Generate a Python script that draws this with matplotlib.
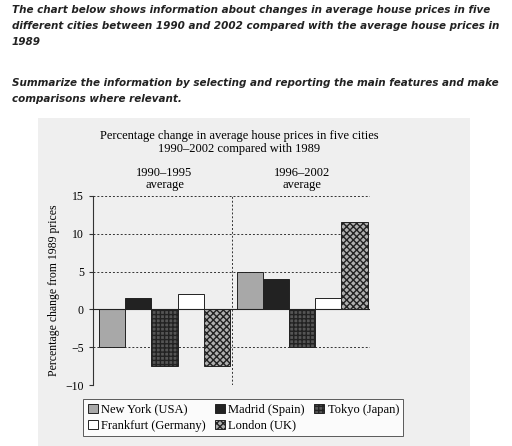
import matplotlib
matplotlib.use("Agg")
import matplotlib.pyplot as plt
from matplotlib.patches import Rectangle, Patch

cities = ["New York (USA)", "Madrid (Spain)", "Tokyo (Japan)", "Frankfurt (Germany)", "London (UK)"]
period_labels = ["1990\u20131995\naverage", "1996\u20132002\naverage"]
p1 = [-5, 1.5, -7.5, 2, -7.5]
p2 = [5, 4, -5, 1.5, 11.5]
yticks = [-10, -5, 0, 5, 10, 15]

colors = ["#a8a8a8", "#222222", "#555555", "#ffffff", "#b0b0b0"]
hatches = [None, None, "++++", None, "xxxxx"]

W, H = 512, 446
fig = plt.figure(figsize=(W/100, H/100), dpi=100)
fig.patches.append(Rectangle((38/W, 0), (470-38)/W, (446-118)/H, transform=fig.transFigure,
                             facecolor="#efefef", edgecolor="none", zorder=-10))

fig.text(12/W, 1-5/H, "The chart below shows information about changes in average house prices in five\n"
         "different cities between 1990 and 2002 compared with the average house prices in\n1989",
         fontsize=7.5, fontweight="bold", style="italic", va="top", ha="left", linespacing=1.75, color="#222")
fig.text(12/W, 1-78/H, "Summarize the information by selecting and reporting the main features and make\n"
         "comparisons where relevant.",
         fontsize=7.5, fontweight="bold", style="italic", va="top", ha="left", linespacing=1.75, color="#222")

serif = "Liberation Serif"
ax = fig.add_axes([93/W, 1-385/H, (370-93)/W, (385-196)/H])
ax.set_facecolor("none")
ax.set_xlim(0, 10.57)
ax.set_ylim(-10, 15)
starts = [0.23, 5.48]
for g, vals in enumerate([p1, p2]):
    for i, v in enumerate(vals):
        ax.bar(starts[g] + i, v, width=1, align="edge", color=colors[i], hatch=hatches[i],
               edgecolor="#222", linewidth=0.7, zorder=3)
for y in [-10, -5, 5, 10, 15]:
    ax.axhline(y, color="#333", linestyle=(0, (2, 2)), linewidth=0.7, zorder=1)
ax.axhline(0, color="#222", linewidth=0.8, zorder=4)
ax.axvline(5.29, color="#333", linestyle=(0, (2, 2)), linewidth=0.7, zorder=1)
for s in ["top", "right", "bottom"]:
    ax.spines[s].set_visible(False)
ax.spines["left"].set_color("#333")
ax.set_xticks([])
ax.set_yticks(yticks)
ax.set_yticklabels(["\u221210", "\u22125", "0", "5", "10", "15"], fontfamily=serif, fontsize=8.5)
ax.tick_params(axis="y", length=3, color="#333")
ax.set_ylabel("Percentage change from 1989 prices", fontfamily=serif, fontsize=8.5)
ax.text(2.73, 15.6, period_labels[0], ha="center", va="bottom", fontfamily=serif, fontsize=9, linespacing=1.1)
ax.text(7.98, 15.6, period_labels[1], ha="center", va="bottom", fontfamily=serif, fontsize=9, linespacing=1.1)
fig.text(0.5 * (93 + 370) / W + 0.015, 1-130/H,
         "Percentage change in average house prices in five cities\n1990\u20132002 compared with 1989",
         ha="center", va="top", fontfamily=serif, fontsize=9, linespacing=1.1)

handles = [Patch(facecolor=colors[i], hatch=hatches[i], edgecolor="#222", linewidth=0.7) for i in range(5)]
order = [0, 3, 1, 4, 2]
leg = fig.legend([handles[i] for i in order], [cities[i] for i in order], ncol=3,
                 loc="upper left", bbox_to_anchor=(77/W, 1-393/H), frameon=True, fancybox=False,
                 prop={"family": serif, "size": 9}, handlelength=0.8, handleheight=0.8,
                 handletextpad=0.3, columnspacing=0.7, labelspacing=0.3, borderpad=0.35)
leg.get_frame().set_edgecolor("#333")
leg.get_frame().set_linewidth(0.7)

fig.savefig("out.png", dpi=100)
